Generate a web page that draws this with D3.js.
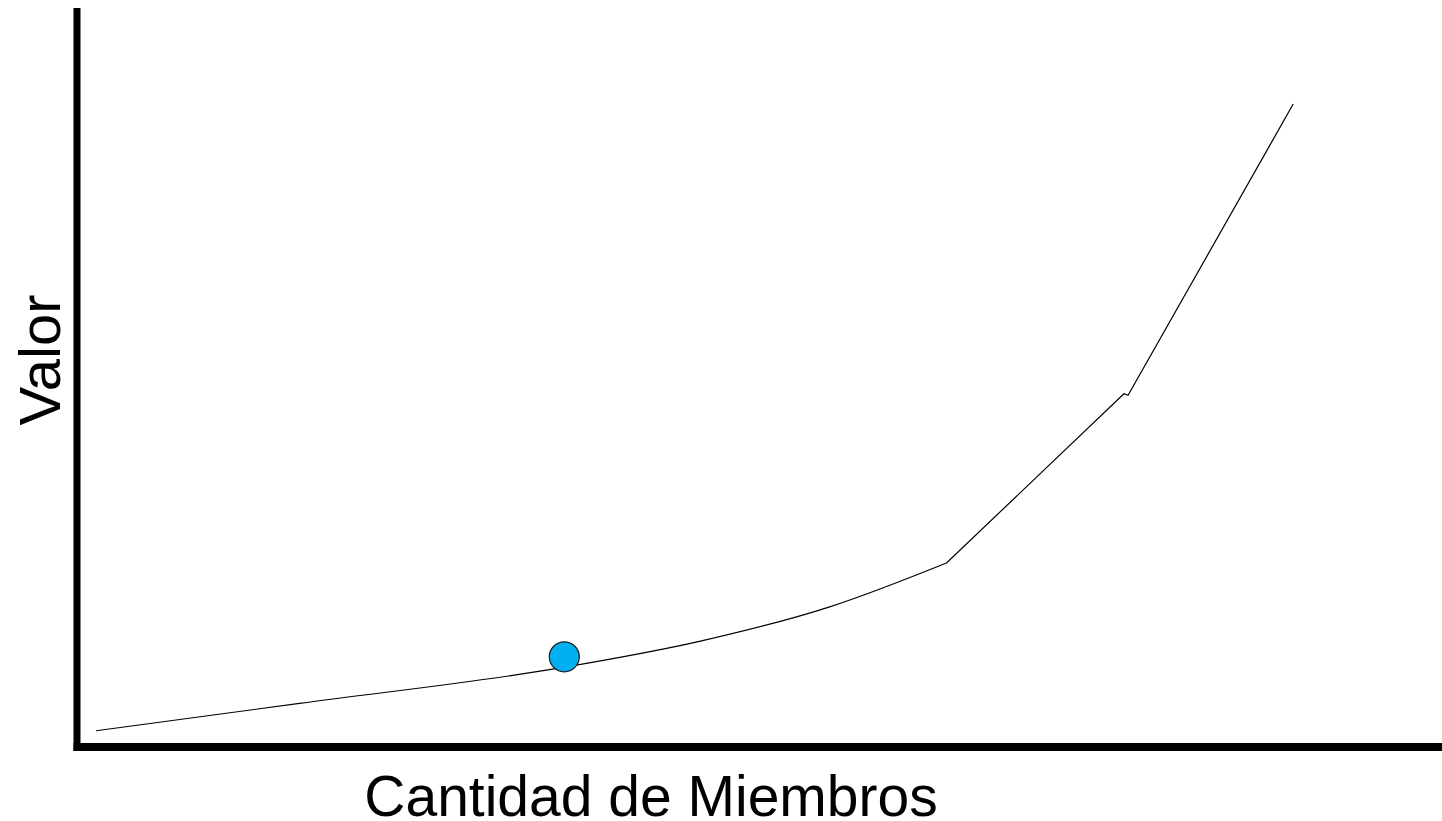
<!DOCTYPE html>
<html>
<head>
<meta charset="utf-8">
<script src="https://cdn.jsdelivr.net/npm/d3@7"></script>
<style>
  body { margin: 0; background: #fff; }
  text { font-family: "Liberation Sans", Arial, sans-serif; }
</style>
</head>
<body>
<div id="chart"></div>
<script>
// chart data (abstract units, no ticks on the original)
var members = [1.4, 16.3, 35.7, 45.6, 55.2, 63.7, 76.7, 77.0, 89.1];
var values = [2.2, 5.9, 10.8, 14.3, 19.0, 24.9, 47.8, 47.6, 87.0];
var kneeIndex = 5; // smooth part ends here, straight segments after
var pointMember = 35.7;
var pointValue = 12.2;
var xLabel = 'Cantidad de Miembros';
var yLabel = 'Valor';

const svgWidth = 1442;
const svgHeight = 821;

var svg = d3.select('#chart')
    .append('svg')
    .attr('width', svgWidth)
    .attr('height', svgHeight);

// scales
var xScale = d3.scaleLinear()
    .domain([0, 100])
    .range([77, 1442]);

var yScale = d3.scaleLinear()
    .domain([0, 100])
    .range([747, 8]);

var lineData = members.map((m, i) => ({ x: m, y: values[i] }));

// smooth lower part of the curve
var smoothLine = d3.line()
    .x(d => xScale(d.x))
    .y(d => yScale(d.y))
    .curve(d3.curveMonotoneX);

// straight upper part
var straightLine = d3.line()
    .x(d => xScale(d.x))
    .y(d => yScale(d.y))
    .curve(d3.curveLinear);

svg.append('path')
    .datum(lineData.slice(0, kneeIndex + 1))
    .attr('d', smoothLine)
    .attr('fill', 'none')
    .attr('stroke', '#000')
    .attr('stroke-width', 1.2);

svg.append('path')
    .datum(lineData.slice(kneeIndex))
    .attr('d', straightLine)
    .attr('fill', 'none')
    .attr('stroke', '#000')
    .attr('stroke-width', 1.2);

// axes (plain thick lines)
svg.append('line')
    .attr('x1', xScale(0)).attr('x2', xScale(0))
    .attr('y1', yScale(100)).attr('y2', yScale(0) + 4)
    .attr('stroke', '#000')
    .attr('stroke-width', 7);

svg.append('line')
    .attr('x1', xScale(0) - 3.5).attr('x2', xScale(100))
    .attr('y1', yScale(0)).attr('y2', yScale(0))
    .attr('stroke', '#000')
    .attr('stroke-width', 8);

// marker
svg.append('circle')
    .attr('cx', xScale(pointMember))
    .attr('cy', yScale(pointValue))
    .attr('r', 15)
    .attr('fill', '#00b0f0')
    .attr('stroke', '#1a1a1a')
    .attr('stroke-width', 1.2);

// labels
svg.append('text')
    .attr('x', 651)
    .attr('y', 816)
    .attr('text-anchor', 'middle')
    .style('font-size', '57px')
    .text(xLabel);

svg.append('text')
    .attr('transform', 'translate(60, 360) rotate(-90)')
    .attr('text-anchor', 'middle')
    .style('font-size', '58px')
    .text(yLabel);
</script>
</body>
</html>
